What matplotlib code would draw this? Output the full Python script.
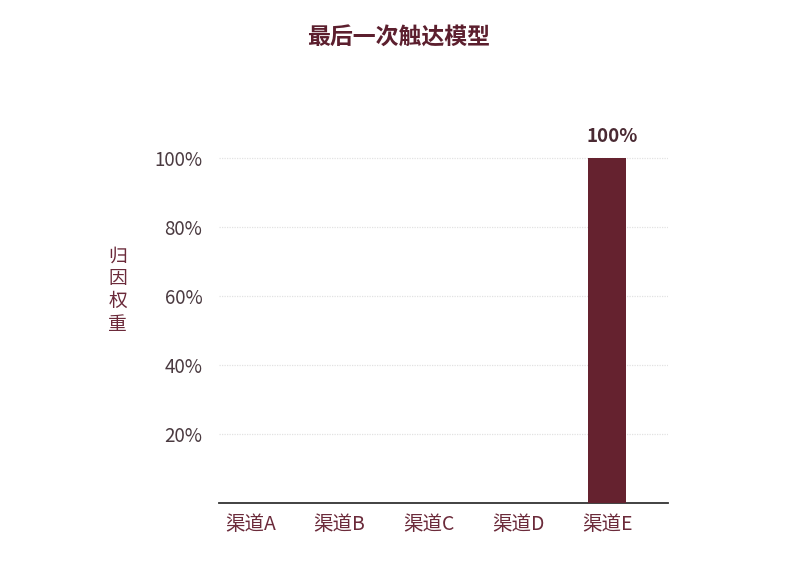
import matplotlib
matplotlib.use('Agg')
import matplotlib.pyplot as plt

plt.rcParams['font.family'] = ['Noto Sans CJK SC', 'DejaVu Sans']

# 数据
channels = ['渠道A', '渠道B', '渠道C', '渠道D', '渠道E']
weights = [0, 0, 0, 0, 100]
yticks = [20, 40, 60, 80, 100]
ytick_labels = ['20%', '40%', '60%', '80%', '100%']

maroon = '#65222f'

fig = plt.figure(figsize=(8.06, 5.77), dpi=100)
ax = fig.add_axes([0.2717, 0.1282, 0.557, 0.64])

x = list(range(len(channels)))
bars = ax.bar(x, weights, width=0.42, color=maroon, zorder=3)
for xi, w in zip(x, weights):
    if w > 0:
        ax.text(xi + 0.05, w + 3.5, f'{w}%', ha='center', va='bottom',
                fontsize=13.5, fontweight='bold', color='#4a2a33')

ax.set_xlim(-0.35, 4.68)
ax.set_ylim(0, 107)
ax.set_yticks(yticks)
ax.set_yticklabels(ytick_labels, fontsize=13.5, color='#4a3a40')
ax.set_xticks(x)
ax.set_xticklabels(channels, fontsize=14, color='#6b2a3a')
ax.tick_params(axis='both', length=0)
ax.tick_params(axis='y', pad=12)
ax.tick_params(axis='x', pad=8)

ax.grid(axis='y', color='#e2e2e2', linestyle=(0, (1, 1)), linewidth=0.9, zorder=0)
for s in ['top', 'right', 'left']:
    ax.spines[s].set_visible(False)
ax.spines['bottom'].set_color('#333333')
ax.spines['bottom'].set_linewidth(1.3)

fig.text(0.146, 0.497, '归\n因\n权\n重', ha='center', va='center',
         fontsize=13.5, color='#6b2a3a', linespacing=1.12)
fig.text(0.494, 0.934, '最后一次触达模型', ha='center', va='center',
         fontsize=16.5, fontweight='bold', color='#5c1f2e')

fig.savefig('out.png', dpi=100)
